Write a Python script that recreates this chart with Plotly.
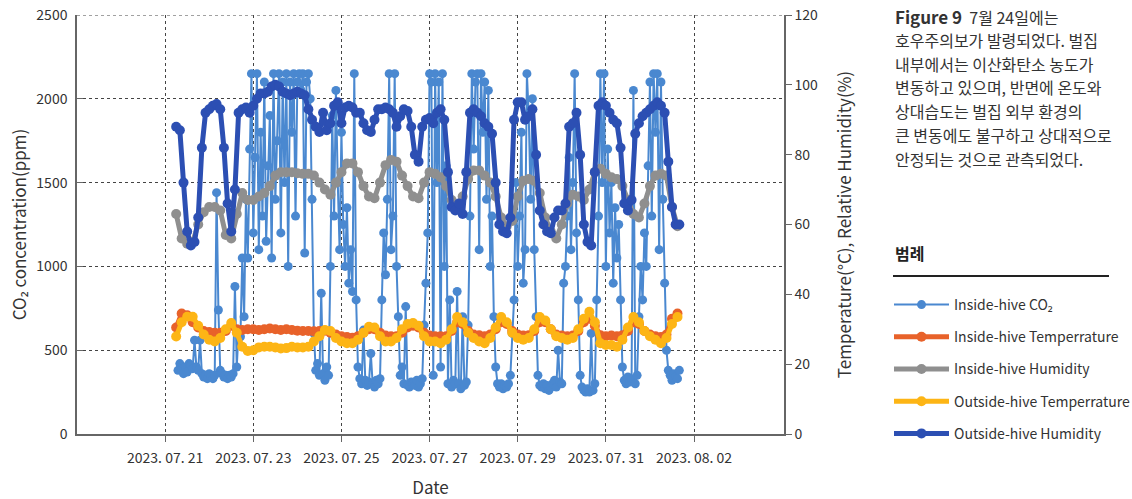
import pandas as pd
import plotly.graph_objects as go

# ---------------- data ----------------
# hourly CO2 (ppm) from 2023-07-21 07:00 to 2023-08-01 16:00
co2_start = "2023-07-21 07:00"
co2_values = [
    380, 420, 390, 360, 400, 370, 420, 410, 390, 560,
    400, 380, 560, 360, 340, 350, 330, 360, 340, 330,
    350, 1440, 740, 380, 360, 340, 350, 330, 350, 340,
    360, 880, 400, 620, 580, 1050, 700, 1400, 1050, 1700,
    2150, 1200, 1650, 2150, 1100, 1800, 1300, 2100, 1150, 1600,
    1900, 1050, 2150, 1400, 1750, 2150, 1200, 2100, 1500, 2150,
    1000, 2100, 1800, 2150, 1300, 2100, 2150, 2050, 2150, 1080,
    2100, 2150, 2000, 1400, 600, 380, 420, 350, 840, 360,
    320, 400, 350, 1000, 1900, 1300, 2050, 1500, 1100, 1800,
    1250, 1000, 1350, 900, 1100, 850, 2150, 800, 400, 330,
    300, 620, 320, 290, 310, 480, 300, 280, 320, 300,
    330, 800, 1200, 950, 1400, 2150, 1100, 1300, 2150, 1000,
    700, 350, 400, 300, 760, 290, 280, 310, 300, 290,
    320, 280, 300, 330, 650, 900, 1200, 2150, 2100, 350,
    2150, 1500, 2100, 400, 2150, 1000, 1600, 300, 800, 280,
    320, 300, 850, 300, 270, 700, 290, 310, 650, 1300,
    2150, 1700, 2100, 2150, 1100, 2150, 1800, 2100, 1400, 2050,
    1000, 1300, 700, 400, 300, 280, 300, 270, 290, 280,
    300, 350, 600, 800, 1500, 1000, 1300, 1800, 900, 1100,
    2150, 1900, 1400, 2000, 1100, 700, 350, 290, 280, 300,
    270, 290, 260, 280, 300, 320, 280, 500, 310, 300,
    900, 1000, 1300, 1650, 1100, 1500, 2150, 1200, 800, 350,
    280, 260, 250, 270, 250, 600, 260, 300, 800, 1300,
    2150, 1500, 2150, 1000, 1700, 1200, 1500, 900, 1350, 1050,
    1250, 800, 400, 320, 300, 340, 310, 330, 2050, 300,
    350, 700, 1000, 800, 1200, 1000, 1600, 2100, 1300, 2150,
    1800, 2150, 1100, 2100, 1400, 900, 500, 380, 350, 320,
    360, 340, 330, 380,
]

# outside humidity (%), every 2 h from 2023-07-21 06:00
out_hum_start = "2023-07-21 06:00"
out_hum_values = [
    88, 87, 72, 58, 54, 55, 62, 82, 92, 93,
    94, 94.5, 93, 82, 66, 58, 70, 92, 93, 93.5,
    92, 94, 96, 97.5, 97.5, 98, 99.5, 100, 99.5, 98,
    97.5, 97, 97.5, 98, 97.5, 97, 93, 90, 88, 86.5,
    92, 87, 89, 94, 95, 89, 93.5, 94, 93.5, 92,
    92, 89, 87, 86.5, 90, 93, 93, 93.5, 93, 92,
    88, 91, 93, 92.5, 88, 80, 78, 88, 90, 90.5,
    89, 92, 93, 90, 75, 65, 64, 66, 63, 75,
    92, 93, 92, 91, 89, 88, 86, 72, 60, 58,
    57.5, 62, 90, 95, 95, 90, 91, 93, 80, 64,
    60, 58, 57.5, 62, 64, 64, 66, 88, 89, 92,
    80, 60, 55, 54, 75, 94, 95, 94, 92, 90,
    89, 82, 66, 64, 67, 86, 89, 91, 92, 93,
    94, 95, 94, 92, 78, 65, 60, 60,
]

# 3-hourly series from 2023-07-21 06:00
three_h_start = "2023-07-21 06:00"
in_hum_values = [
    63, 56, 54.5, 55, 60, 63.5, 65, 65, 64, 57,
    56, 63, 69, 67, 67, 68, 69, 71, 74, 75,
    75, 75, 74.7, 74.5, 74.5, 74, 72, 70, 68.5, 72,
    75, 77.5, 77.5, 75, 71, 68, 67.5, 72, 77, 78.5,
    78, 74, 71, 68, 67.5, 72, 75, 74.5, 73.5, 71,
    67, 65, 68, 73, 75.5, 75.5, 74, 72, 68, 62,
    59.5, 61, 68, 72.5, 73, 72.5, 69, 62, 58, 56,
    60, 66, 68.5, 68, 67, 70, 75, 76, 74.5, 73.5,
    73, 71, 67, 63, 62, 66, 71, 74, 74.5, 74,
    65, 59.5,
]
out_temp_values = [
    27.9, 32, 33.6, 33.6, 31, 28.5, 27, 26.5, 27.5, 30,
    31.8, 29, 25, 23.8, 24, 24.8, 25, 25, 24.8, 24.5,
    24.6, 25, 24.8, 24.8, 25, 26.5, 28, 29.8, 29.5, 27.5,
    26.5, 26, 26, 27, 29, 30.7, 30.5, 28, 26.5, 26.5,
    27.5, 30, 31.5, 31.8, 31, 28, 26.5, 26.5, 26, 27,
    30, 33.5, 32, 29, 27.5, 26.5, 26, 27.5, 30.5, 33.5,
    32, 29, 27.5, 27, 27.5, 30, 33.5, 32.5, 30, 28,
    27.5, 27, 27.5, 30, 33, 35, 32, 26, 25.5, 25.5,
    25, 27, 30.5, 33.5, 32, 29.5, 28, 27, 26, 27.5,
    31.5, 33.5,
]
in_temp_values = [
    30.5, 34.5, 34, 32, 30.5, 29.5, 29.2, 29, 29, 29.5,
    31, 30, 29.8, 30, 30, 29.8, 30, 30.2, 30, 29.8,
    30, 29.8, 29.6, 29.5, 29.5, 29.4, 29.5, 29.6, 29, 28.5,
    28, 27.8, 27.6, 28, 29, 30, 30, 29, 28.2, 28,
    28, 29, 30.5, 31, 30.5, 29, 28.2, 28, 28, 28,
    29.5, 32, 31.5, 29.5, 28.5, 28.3, 28, 28.5, 30, 32,
    31.5, 29.5, 28.5, 28.2, 28.3, 29.5, 32, 32, 30, 28.5,
    28.2, 28, 28.2, 29.5, 32, 33, 31, 28.3, 28, 28.2,
    28, 28.3, 29.5, 32, 31.5, 29.5, 28.5, 28, 27.8, 28.5,
    33, 34.5,
]

x_tick_dates = ["2023-07-21", "2023-07-23", "2023-07-25", "2023-07-27",
                "2023-07-29", "2023-07-31", "2023-08-02"]

series_names = ["Inside-hive CO₂", "Inside-hive Temperrature", "Inside-hive Humidity",
                "Outside-hive Temperrature", "Outside-hive Humidity"]
series_colors = ["#4a88d0", "#e8622a", "#8f8f8f", "#fdb515", "#2c4fb3"]

caption_lines = [
    "<span style='font-size:17px'><b>Figure 9</b></span>  7월 24일에는",
    "호우주의보가 발령되었다. 벌집",
    "내부에서는 이산화탄소 농도가",
    "변동하고 있으며, 반면에 온도와",
    "상대습도는 벌집 외부 환경의",
    "큰 변동에도 불구하고 상대적으로",
    "안정되는 것으로 관측되었다.",
]

# ---------------- figure ----------------
co2_t = pd.date_range(co2_start, periods=len(co2_values), freq="h")
out_hum_t = pd.date_range(out_hum_start, periods=len(out_hum_values), freq="2h")
t3 = pd.date_range(three_h_start, periods=len(in_hum_values), freq="3h")

FONT = "Noto Sans CJK KR, Noto Sans, sans-serif"
fig = go.Figure()


def add(x, y, i, axis, msize=7, lw=2):
    fig.add_trace(go.Scatter(
        x=x, y=y, yaxis=axis, name=series_names[i], mode="lines+markers",
        line=dict(color=series_colors[i], width=lw),
        marker=dict(color=series_colors[i], size=msize),
        legendgroup=str(i),
    ))


add(co2_t, co2_values, 0, "y", 9, 2)
add(t3, in_temp_values, 1, "y2", 10, 5)
add(t3, in_hum_values, 2, "y2", 10, 5)
add(t3, out_temp_values, 3, "y2", 10, 5)
add(out_hum_t, out_hum_values, 4, "y2", 10, 5)


def px(xpix):
    return (xpix - 77) / 707.0


def py(ypix):
    return (434 - ypix) / 419.0


grid = dict(showgrid=True, gridcolor="#444", gridwidth=1, griddash="3px,3px")
fig.update_layout(
    width=1132, height=499,
    margin=dict(l=77, r=348, t=15, b=65, autoexpand=False),
    paper_bgcolor="white", plot_bgcolor="white",
    font=dict(family=FONT, size=14, color="#333"),
    xaxis=dict(type="date", range=["2023-07-19 00:00", "2023-08-04 01:00"],
               tickvals=x_tick_dates, tickformat="%Y. %m. %d", ticklabelstandoff=4,
               showline=True, linecolor="#666", linewidth=1.5, automargin=False,
               ticks="outside", ticklen=6, tickcolor="#666", zeroline=False,
               ticklabeloverflow="allow",
               title=dict(text="Date", standoff=18), **grid),
    yaxis=dict(range=[0, 2500], dtick=500, showline=True, linecolor="#666", linewidth=1.5,
               ticks="inside", ticklen=6, tickcolor="#666", zeroline=False, automargin=False,
               ticklabelstandoff=5, ticklabeloverflow="allow",
               title=dict(text="CO₂ concentration(ppm)", standoff=5), **grid),
    yaxis2=dict(range=[0, 120], dtick=20, overlaying="y", side="right", showgrid=False,
                showline=True, linecolor="#666", linewidth=1.5, ticks="outside",
                ticklen=6, tickcolor="#666", zeroline=False, automargin=False,
                ticklabeloverflow="allow",
                title=dict(text="Temperature(°C), Relative Humidity(%)", standoff=22)),
    legend=dict(x=px(889), xanchor="left", y=py(289),
                yanchor="top", font=dict(size=14, color="#333"), traceorder="grouped",
                tracegroupgap=11, itemwidth=55, bgcolor="rgba(0,0,0,0)"),
    showlegend=True,
)

# top dashed border line at 2500
fig.add_shape(type="line", xref="paper", yref="y", x0=0, x1=1, y0=2500, y1=2500,
              line=dict(color="#444", width=1, dash="3px,3px"), layer="below")

for line, ycen in zip(caption_lines, [16.7, 40, 63.5, 87.3, 111, 135, 159.3]):
    fig.add_annotation(text=line, xref="paper", yref="paper", x=px(893), y=py(ycen),
                       xanchor="left", yanchor="middle", showarrow=False,
                       font=dict(family=FONT, size=16, color="#333"))

fig.add_annotation(text="<b>범례</b>", xref="paper", yref="paper", x=px(893), y=py(253),
                   xanchor="left", yanchor="middle", showarrow=False,
                   font=dict(family=FONT, size=16, color="#222"))
fig.add_shape(type="line", xref="paper", yref="paper", x0=px(893), x1=px(1109),
              y0=py(276), y1=py(276), line=dict(color="#222", width=2))

# remove the default 8px page margin so the figure sits at the window's corner
fig.write_html("out.html",
               config={"displayModeBar": False},
               post_script="document.body.style.margin='0px';"
                           "document.body.style.overflow='hidden';")
